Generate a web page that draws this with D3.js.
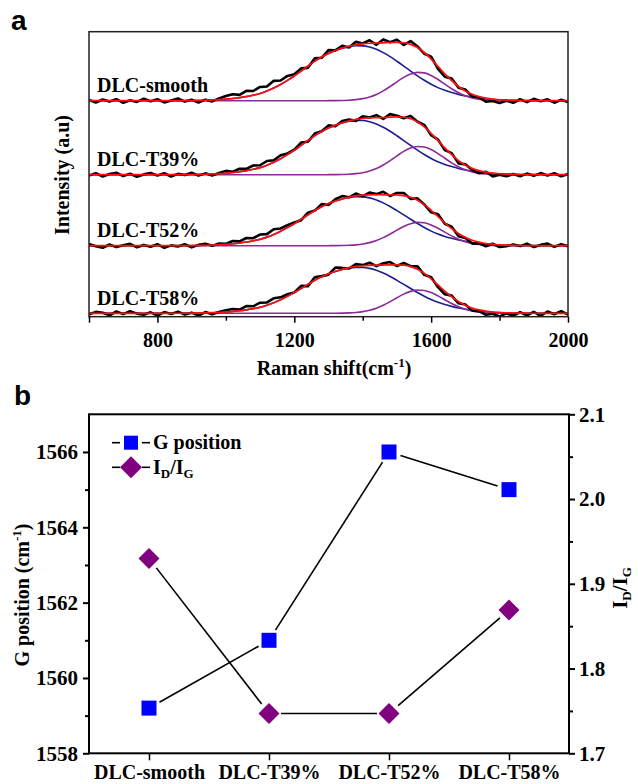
<!DOCTYPE html>
<html>
<head>
<meta charset="utf-8">
<script src="https://cdn.jsdelivr.net/npm/d3@7"></script>
<style>
  body { margin: 0; background: #fff; }
  svg text { font-family: "Liberation Serif", "Times New Roman", serif; font-weight: bold; fill: #000; }
  .panel-tag { font-family: "Liberation Sans", Arial, sans-serif !important; }
</style>
</head>
<body>
<div id="chart"></div>
<script>
// ---- panel a: raman spectra (sampled every 20 cm-1, 600..2000) ----
const shifts = d3.range(600, 2001, 20)
const samples = ['DLC-smooth', 'DLC-T39%', 'DLC-T52%', 'DLC-T58%']
const offsets = [216, 142, 71, 3.4]      // stacking offset (a.u.)
const dAmp = [55, 54.3, 49, 46]          // D band height
const gAmp = [28.4, 28.3, 23.4, 23.3]    // G band height
const ramanTicks = [600, 800, 1200, 1600, 2000]
const ramanMinor = [1000, 1400, 1800]

// normalised band profiles
const dShape = [0,0,0,0,0,0,0,0,0,0,0,0,0, .001,.002,.003,.005,.008,.013,.02,
  .03,.04,.055,.075,.1,.13,.175,.23,.295,.37,
  .45,.54,.63,.72,.795,.86,.91,.952,.983,.998,
  .997,.976,.934,.874,.801,.717,.629,.539,.452,.371,
  .298,.238,.19,.15,.115,.088,.065,.047,.033,.022,
  .015,.01,.006,.004,.002,.001, 0,0,0,0,0]
const gShape = [0,0,0,0,0,0,0,0,0,0, 0,0,0,0,0,0,0,0,0,0, 0,0,0,0,0,0,0,0,0,0, 0,0,0,0,0,
  .001,.003,.008,.017,.037, .072,.132,.222,.345,.498, .665,.823,.941,.998,.979,
  .889,.747,.581,.419,.279, .172,.099,.052,.026,.012, .005,.002,.001,
  0,0,0,0,0,0,0,0]

// measured spectrum minus fit (residuals)
const residSmooth = [0.8,-1.8,1.2,-0.9,1.5,-2.1,0.5,-1.2,2.0,-0.6,1.4,-1.7,0.3,2.2,-1.0,0.9,-2.0,0.6,-1.4,
  1.2,3.0,4.2,2.8,5.8,4.2,6.6,4.6,7.2,4.0,4.4,
  1.8,2.6,-1.8,2.8,-0.8,3.2,0.2,2.4,-1.4,2.9,0.4,
  3.0,-1.8,3.4,0.2,2.7,-2.2,3.2,1.0,-1.2,2.4,-2.4,
  -3.0,2.0,-1.2,1.4,-2.2,-0.6,-3.6,-1.8,-3.2,-0.6,-2.4,
  1.2,-1.5,1.8,-0.6,1.4,-2.0,0.9,-1.4]
const residT39 = [-0.9,1.5,-1.8,0.6,2.0,-1.4,1.0,-2.1,0.3,1.6,-0.8,1.4,-1.8,0.8,-0.5,1.8,-1.2,0.9,-1.5,
  0.6,2.2,0.8,3.0,1.8,3.8,2.4,4.2,2.0,3.4,1.2,
  0.6,2.8,-1.2,2.0,0.2,2.6,-1.0,1.8,1.2,-1.4,2.2,
  0.4,2.6,-1.4,3.0,1.2,-1.0,2.8,0.2,2.0,-1.8,1.0,
  -2.2,1.6,-2.8,0.7,-1.5,-2.6,0.4,-3.2,-1.0,-2.2,0.3,
  -1.8,1.0,-1.2,1.6,-0.8,1.4,-1.6,0.6]
const residT52 = [1.6,-0.6,-2.0,1.2,-1.4,0.5,1.8,-1.6,0.8,-1.0,1.5,-2.2,0.3,-0.9,1.4,-1.8,0.6,1.5,-0.8,
  1.2,0.4,2.8,1.6,4.0,2.6,4.8,3.0,5.2,2.8,2.4,
  1.2,-1.0,2.2,-0.2,2.6,-1.4,1.8,2.8,-0.2,2.4,-1.0,
  2.2,0.6,3.0,-1.2,2.0,2.6,-1.6,1.8,0.2,-2.0,2.2,
  -1.0,1.8,-2.6,-0.6,-3.4,-1.2,-2.8,0.6,-2.2,-1.0,0.9,
  -0.6,2.0,-1.4,0.8,2.1,-1.2,1.5,-0.5]
const residT58 = [-1.2,1.4,0.6,-2.0,1.8,-0.8,2.2,-0.3,-1.5,1.0,-2.4,1.2,-0.6,1.6,-1.4,0.5,-2.6,0.9,-1.6,
  0.3,1.6,2.4,1.2,3.8,2.4,4.6,2.8,4.4,2.4,2.0,
  0.2,2.6,-1.8,3.0,0.6,-1.0,3.8,1.4,-0.8,2.4,0.6,
  2.6,-1.0,1.8,2.8,-1.2,2.2,0.4,2.9,-1.4,1.6,-2.2,
  -3.2,1.0,-1.8,0.8,-2.6,-1.2,-3.6,-1.8,-4.0,-0.6,-2.6,
  0.9,-2.0,1.4,-2.6,1.8,-1.0,2.2,-1.4]
const residuals = [residSmooth, residT39, residT52, residT58]

// ---- panel b: G position and ID/IG ----
const gPosition = [1559.2, 1561.0, 1566.0, 1565.0]
const idIg = [1.930, 1.747, 1.747, 1.869]
const gPosTicks = [1558, 1560, 1562, 1564, 1566]
const gPosMinor = [1559, 1561, 1563, 1565]
const ratioTicks = [1.7, 1.8, 1.9, 2.0, 2.1]
const ratioMinor = [1.75, 1.85, 1.95, 2.05]

const svg = d3.select('#chart').append('svg')
  .attr('width', 638)
  .attr('height', 784)

// ================= panel a =================
const x = d3.scaleLinear().domain([600, 2000]).range([89, 568])
const y = d3.scaleLinear().domain([0, 285]).range([316.7, 31.7])

svg.append('text').attr('class', 'panel-tag')
  .attr('x', 11).attr('y', 30).style('font-size', '28px').text('a')

svg.append('clipPath').attr('id', 'clipA')
  .append('rect').attr('x', 89).attr('y', 31.7).attr('width', 479).attr('height', 285)

const spectra = svg.append('g').attr('clip-path', 'url(#clipA)')

const line = d3.line()
  .x((d, i) => x(shifts[i]))
  .y(d => y(d))
const smooth = d3.line()
  .x((d, i) => x(shifts[i]))
  .y(d => y(d))
  .curve(d3.curveMonotoneX)

samples.forEach((name, s) => {
  const o = offsets[s]
  const dBand = dShape.map(v => o + v * dAmp[s])
  const gBand = gShape.map(v => o + v * gAmp[s])
  const fit = shifts.map((w, i) => o + dShape[i] * dAmp[s] + gShape[i] * gAmp[s])
  const raw = fit.map((v, i) => v + residuals[s][i])

  spectra.append('path').attr('d', smooth(dBand))
    .attr('fill', 'none').attr('stroke', '#1d1d94').attr('stroke-width', 1.6)
  spectra.append('path').attr('d', smooth(gBand))
    .attr('fill', 'none').attr('stroke', '#8e2a98').attr('stroke-width', 1.6)
  spectra.append('path').attr('d', line(raw))
    .attr('fill', 'none').attr('stroke', '#000').attr('stroke-width', 2.6)
    .attr('stroke-linejoin', 'round')
  spectra.append('path').attr('d', smooth(fit))
    .attr('fill', 'none').attr('stroke', '#ff1010').attr('stroke-width', 1.7)

  svg.append('text')
    .attr('x', 97).attr('y', y(o) - 8.5)
    .style('font-size', '20px')
    .text(name)
})

svg.append('rect')
  .attr('x', 89).attr('y', 31.7).attr('width', 479).attr('height', 285)
  .attr('fill', 'none').attr('stroke', '#222').attr('stroke-width', 1.5)

const axA = svg.append('g').attr('transform', `translate(0,${y(0)})`)
  .call(d3.axisBottom(x).tickValues(ramanTicks).tickSize(6).tickSizeOuter(0)
    .tickFormat(d => d === 600 ? '' : d))
axA.select('.domain').remove()
axA.selectAll('line').attr('stroke-width', 1.5)
axA.selectAll('text').attr('y', 30).attr('dy', 0).style('font-size', '20px')
svg.append('g').attr('transform', `translate(0,${y(0)})`)
  .call(d3.axisBottom(x).tickValues(ramanMinor).tickSize(4).tickSizeOuter(0).tickFormat(''))
  .call(g => g.select('.domain').remove())
  .selectAll('line').attr('stroke-width', 1.5)

const xLabel = svg.append('text')
  .attr('x', 334).attr('y', 375)
  .attr('text-anchor', 'middle')
  .style('font-size', '20px')
xLabel.append('tspan').text('Raman shift(cm')
xLabel.append('tspan').attr('dy', -8).style('font-size', '13px').text('-1')
xLabel.append('tspan').attr('dy', 8).text(')')

svg.append('text')
  .attr('transform', 'translate(69,175) rotate(-90)')
  .attr('text-anchor', 'middle')
  .style('font-size', '20px')
  .text('Intensity (a.u)')

// ================= panel b =================
const xb = d3.scalePoint().domain(samples).range([89, 569]).padding(0.5)
const yL = d3.scaleLinear().domain([1558, 1567]).range([753.3, 414.3])
const yR = d3.scaleLinear().domain([1.7, 2.1]).range([753.3, 414.3])

svg.append('text').attr('class', 'panel-tag')
  .attr('x', 14).attr('y', 405).style('font-size', '28px').text('b')

svg.append('rect')
  .attr('x', 89).attr('y', 414.3).attr('width', 480).attr('height', 339)
  .attr('fill', 'none').attr('stroke', '#000').attr('stroke-width', 2)

const axL = svg.append('g').attr('transform', 'translate(89,0)')
  .call(d3.axisLeft(yL).tickValues(gPosTicks).tickSize(6).tickSizeOuter(0).tickPadding(5)
    .tickFormat(d3.format('d')))
axL.select('.domain').remove()
axL.selectAll('line').attr('stroke-width', 2)
axL.selectAll('text').attr('dy', '0.33em').style('font-size', '21px')
svg.append('g').attr('transform', 'translate(89,0)')
  .call(d3.axisLeft(yL).tickValues(gPosMinor).tickSize(4).tickSizeOuter(0).tickFormat(''))
  .call(g => g.select('.domain').remove())
  .selectAll('line').attr('stroke-width', 2)

const axR = svg.append('g').attr('transform', 'translate(569,0)')
  .call(d3.axisRight(yR).tickValues(ratioTicks).tickSize(6).tickSizeOuter(0).tickPadding(4)
    .tickFormat(d3.format('.1f')))
axR.select('.domain').remove()
axR.selectAll('line').attr('stroke-width', 2)
axR.selectAll('text').attr('dy', '0.33em').style('font-size', '21px')
svg.append('g').attr('transform', 'translate(569,0)')
  .call(d3.axisRight(yR).tickValues(ratioMinor).tickSize(4).tickSizeOuter(0).tickFormat(''))
  .call(g => g.select('.domain').remove())
  .selectAll('line').attr('stroke-width', 2)

const axB = svg.append('g').attr('transform', 'translate(0,753.3)')
  .call(d3.axisBottom(xb).tickSize(7).tickSizeOuter(0))
axB.select('.domain').remove()
axB.selectAll('line').attr('stroke-width', 1.5)
axB.selectAll('text').attr('y', 26).attr('dy', 0).style('font-size', '20px')

const yLabel = svg.append('text')
  .attr('transform', 'translate(29,595) rotate(-90)')
  .attr('text-anchor', 'middle')
  .style('font-size', '20px')
yLabel.append('tspan').text('G position (cm')
yLabel.append('tspan').attr('dy', -8).style('font-size', '13px').text('-1')
yLabel.append('tspan').attr('dy', 8).text(')')

function ratioLabel(sel, sub) {
  sel.append('tspan').text('I')
  sel.append('tspan').attr('dy', sub * 0.3).style('font-size', `${sub}px`).text('D')
  sel.append('tspan').attr('dy', -sub * 0.3).text('/I')
  sel.append('tspan').attr('dy', sub * 0.3).style('font-size', `${sub}px`).text('G')
}
const rLabel = svg.append('text')
  .attr('transform', 'translate(627,588) rotate(-90)')
  .attr('text-anchor', 'middle')
  .style('font-size', '21px')
ratioLabel(rLabel, 13)

// connecting lines with a small gap around each symbol
function gappedSegments(pts, gap) {
  const segs = []
  for (let i = 0; i < pts.length - 1; i++) {
    const [x0, y0] = pts[i], [x1, y1] = pts[i + 1]
    const len = Math.hypot(x1 - x0, y1 - y0)
    const ux = (x1 - x0) / len, uy = (y1 - y0) / len
    segs.push([x0 + ux * gap, y0 + uy * gap, x1 - ux * gap, y1 - uy * gap])
  }
  return segs
}
const gPts = samples.map((c, i) => [xb(c), yL(gPosition[i])])
const rPts = samples.map((c, i) => [xb(c), yR(idIg[i])])

svg.append('g').selectAll('line')
  .data(gappedSegments(gPts, 12).concat(gappedSegments(rPts, 12)))
  .join('line')
  .attr('x1', d => d[0]).attr('y1', d => d[1])
  .attr('x2', d => d[2]).attr('y2', d => d[3])
  .attr('stroke', '#000').attr('stroke-width', 1.6)

svg.append('g').selectAll('rect')
  .data(gPts)
  .join('rect')
  .attr('x', d => d[0] - 7.5).attr('y', d => d[1] - 7.5)
  .attr('width', 15).attr('height', 15)
  .attr('fill', '#0000ff')

const diamond = (cx, cy, r) => `M${cx},${cy - r}L${cx + r},${cy}L${cx},${cy + r}L${cx - r},${cy}Z`
svg.append('g').selectAll('path')
  .data(rPts)
  .join('path')
  .attr('d', d => diamond(d[0], d[1], 10.5))
  .attr('fill', '#800080')

// legend
const leg = svg.append('g')
;[442.7, 467.3].forEach(ly => {
  leg.append('line').attr('x1', 112).attr('x2', 120).attr('y1', ly).attr('y2', ly)
    .attr('stroke', '#000').attr('stroke-width', 1.6)
  leg.append('line').attr('x1', 142).attr('x2', 150).attr('y1', ly).attr('y2', ly)
    .attr('stroke', '#000').attr('stroke-width', 1.6)
})
leg.append('rect').attr('x', 124).attr('y', 435.7).attr('width', 14).attr('height', 14).attr('fill', '#0000ff')
leg.append('path').attr('d', diamond(131, 467.3, 11)).attr('fill', '#800080')
leg.append('text').attr('x', 153).attr('y', 448.5).style('font-size', '20px').text('G position')
const legR = leg.append('text').attr('x', 153).attr('y', 474).style('font-size', '20px')
ratioLabel(legR, 13)
</script>
</body>
</html>
